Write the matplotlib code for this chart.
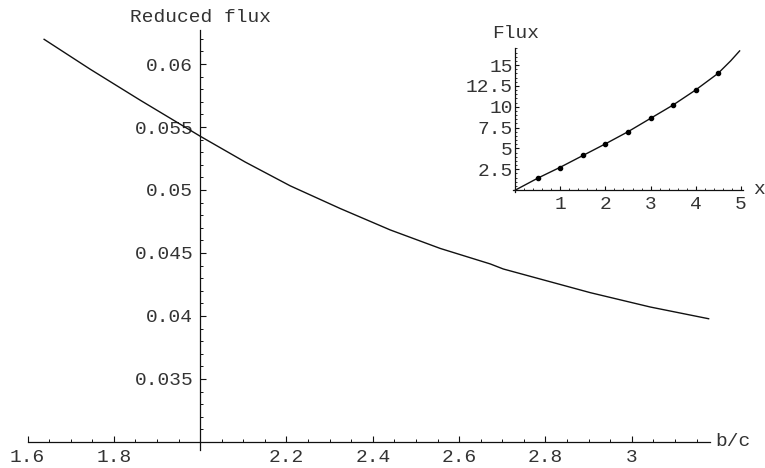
import matplotlib
matplotlib.use("Agg")
import matplotlib.pyplot as plt
from matplotlib.ticker import FixedLocator, FixedFormatter, MultipleLocator

# ---- main curve data ----
bc = [1.6385, 1.7451, 1.8610, 2.0, 2.1043, 2.2086, 2.3244, 2.4403, 2.5562,
      2.6721, 2.7022, 2.9038, 3.0429, 3.178]
reduced_flux = [0.06196, 0.05959, 0.05713, 0.05427, 0.05222, 0.05033, 0.04853,
                0.04683, 0.04536, 0.04413, 0.04373, 0.04185, 0.04071, 0.03978]

x_ticks = [1.6, 1.8, 2.2, 2.4, 2.6, 2.8, 3.0]
x_tick_labels = ["1.6", "1.8", "2.2", "2.4", "2.6", "2.8", "3"]
y_ticks = [0.035, 0.04, 0.045, 0.05, 0.055, 0.06]
y_tick_labels = ["0.035", "0.04", "0.045", "0.05", "0.055", "0.06"]

# ---- inset data ----
inset_curve_x = [0.0, 0.5, 1.0, 1.5, 2.0, 2.5, 3.0, 3.5, 4.0, 4.5, 4.78, 4.98]
inset_curve_y = [0.0, 1.44, 2.75, 4.15, 5.55, 7.0, 8.6, 10.2, 12.0, 14.0, 15.5, 16.7]
inset_pts_x = [0.5, 1.0, 1.5, 2.0, 2.5, 3.0, 3.5, 4.0, 4.5]
inset_pts_y = [1.44, 2.68, 4.2, 5.52, 7.0, 8.64, 10.2, 12.0, 14.0]

inset_x_ticks = [1, 2, 3, 4, 5]
inset_x_labels = ["1", "2", "3", "4", "5"]
inset_y_ticks = [2.5, 5, 7.5, 10, 12.5, 15]
inset_y_labels = ["2.5", "5", "7.5", "10", "12.5", "15"]

W, H = 765, 468
FONT = "Liberation Mono"
TXT = "#333333"
LINE = "#111111"
FS = 14

fig = plt.figure(figsize=(W / 100, H / 100), dpi=100)

def fx(px):
    return px / W

def fy(py):
    return (H - py) / H

# main axes
ax = fig.add_axes([fx(27.5), fy(449.5), fx(709.5) - fx(27.5), fy(30) - fy(449.5)])
ax.set_xlim(1.6, 3.18)
ax.set_ylim(0.0294, 0.0627)
ax.patch.set_alpha(0)
for s in ["top", "right"]:
    ax.spines[s].set_visible(False)
ax.spines["left"].set_position(("data", 2.0))
ax.spines["bottom"].set_position(("data", 0.03))
ax.spines["bottom"].set_bounds(1.6, 3.18)
for s in ["left", "bottom"]:
    ax.spines[s].set_color(LINE)
    ax.spines[s].set_linewidth(0.9)

ax.plot(bc, reduced_flux, color=LINE, lw=1.0)

ax.xaxis.set_major_locator(FixedLocator(x_ticks))
ax.xaxis.set_major_formatter(FixedFormatter(x_tick_labels))
ax.yaxis.set_major_locator(FixedLocator(y_ticks))
ax.yaxis.set_major_formatter(FixedFormatter(y_tick_labels))
ax.xaxis.set_minor_locator(MultipleLocator(0.05))
ax.yaxis.set_minor_locator(MultipleLocator(0.001))
ax.tick_params(axis="both", which="major", direction="in", length=4.5, width=0.8,
               color=LINE, labelcolor=TXT, labelsize=FS)
ax.tick_params(axis="both", which="minor", direction="in", length=2.5, width=0.7, color=LINE)
ax.tick_params(axis="x", which="major", pad=5)
ax.tick_params(axis="y", which="major", pad=5)
for lab in ax.get_xticklabels() + ax.get_yticklabels():
    lab.set_fontfamily(FONT)

fig.text(fx(200), fy(17), "Reduced flux", ha="center", va="center",
         fontfamily=FONT, fontsize=FS, color=TXT)
fig.text(fx(715), fy(442), "b/c", ha="left", va="center",
         fontfamily=FONT, fontsize=FS, color=TXT)

# inset axes
ia = fig.add_axes([fx(513), fy(191.7), fx(743) - fx(513), fy(48) - fy(191.7)])
ia.set_xlim(-0.055, 5.055)
ia.set_ylim(-0.2, 17.05)
ia.patch.set_alpha(0)
for s in ["top", "right"]:
    ia.spines[s].set_visible(False)
ia.spines["left"].set_position(("data", 0.0))
ia.spines["bottom"].set_position(("data", 0.0))
for s in ["left", "bottom"]:
    ia.spines[s].set_color(LINE)
    ia.spines[s].set_linewidth(0.9)

ia.plot(inset_curve_x, inset_curve_y, color=LINE, lw=1.0)
ia.plot(inset_pts_x, inset_pts_y, "o", color="black", ms=3)

ia.xaxis.set_major_locator(FixedLocator(inset_x_ticks))
ia.xaxis.set_major_formatter(FixedFormatter(inset_x_labels))
ia.yaxis.set_major_locator(FixedLocator(inset_y_ticks))
ia.yaxis.set_major_formatter(FixedFormatter(inset_y_labels))
ia.xaxis.set_minor_locator(MultipleLocator(0.2))
ia.yaxis.set_minor_locator(MultipleLocator(0.5))
ia.tick_params(axis="both", which="major", direction="in", length=3, width=0.8,
               color=LINE, labelcolor=TXT, labelsize=FS)
ia.tick_params(axis="both", which="minor", direction="in", length=1.5, width=0.6, color=LINE)
ia.tick_params(axis="x", which="major", pad=4)
ia.tick_params(axis="y", which="major", pad=2)
for lab in ia.get_xticklabels() + ia.get_yticklabels():
    lab.set_fontfamily(FONT)

fig.text(fx(516), fy(33), "Flux", ha="center", va="center",
         fontfamily=FONT, fontsize=FS, color=TXT)
fig.text(fx(753), fy(189), "x", ha="left", va="center",
         fontfamily=FONT, fontsize=FS, color=TXT)

fig.savefig("out.png", dpi=100)
